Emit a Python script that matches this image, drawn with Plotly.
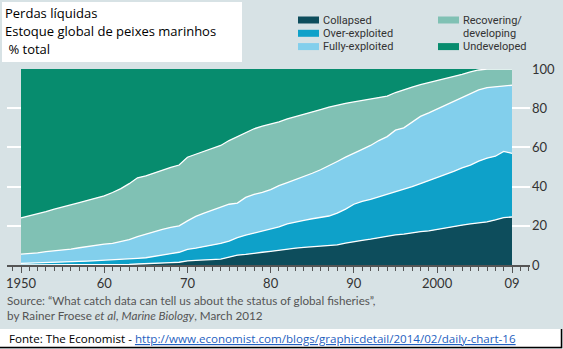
import plotly.graph_objects as go

years = list(range(1950, 2010))

collapsed = [0, 0, 0, 0, 0, 0, 0, 0, 0, 0,
             0, 0, 0.2, 0.3, 0.5, 0.6, 0.8, 1.0, 1.2, 1.4,
             2.1, 2.4, 2.6, 2.8, 3.0, 4.0, 5.0, 5.4, 5.8, 6.5,
             7.0, 7.6, 8.0, 8.6, 9.0, 9.4, 9.8, 10.0, 10.3, 11.2,
             12.0, 12.6, 13.2, 14.0, 14.5, 15.4, 15.8, 16.5, 17.0, 17.4,
             18.2, 19.0, 19.8, 20.3, 21.0, 21.6, 22.0, 23.0, 24.2, 24.5]

over_exploited = [0.8, 0.9, 1.0, 1.1, 1.3, 1.4, 1.6, 1.8, 2.0, 2.2,
                  2.4, 2.5, 2.5, 2.7, 2.9, 3.1, 3.5, 4.0, 4.6, 5.1,
                  5.9, 6.2, 6.7, 7.2, 8.0, 8.2, 9.0, 9.8, 10.4, 10.8,
                  11.2, 11.9, 13.0, 13.4, 13.8, 14.2, 14.5, 15.0, 16.2, 17.3,
                  19.0, 19.9, 20.3, 20.8, 21.3, 22.0, 23.0, 23.5, 24.5, 25.6,
                  26.3, 27.0, 28.0, 29.2, 30.0, 31.4, 32.5, 32.5, 33.8, 32.5]

fully_exploited = [4.7, 4.9, 5.2, 5.7, 5.9, 6.2, 6.5, 7.0, 7.5, 8.0,
                   8.2, 8.5, 9.3, 10.0, 11.1, 12.1, 12.7, 13.2, 13.4, 13.5,
                   14.5, 16.2, 17.2, 18.0, 18.8, 18.8, 17.6, 19.3, 19.8, 19.7,
                   20.3, 21.0, 21.0, 21.5, 22.2, 23.2, 24.3, 25.5, 26.3, 26.5,
                   26.2, 26.5, 27.5, 28.7, 29.7, 31.4, 31.2, 33.0, 34.3, 34.6,
                   35.0, 35.5, 35.7, 36.0, 36.5, 36.3, 36.0, 35.5, 33.5, 34.7]

recovering = [18.5, 19.2, 19.8, 20.4, 21.3, 21.9, 22.5, 23.0, 23.5, 24.0,
              24.7, 26.0, 27.0, 28.5, 30.0, 29.7, 30.0, 30.3, 30.6, 31.0,
              32.5, 31.7, 31.5, 31.5, 31.2, 32.5, 33.9, 33.0, 33.5, 33.8,
              33.3, 32.5, 32.5, 32.1, 31.8, 31.2, 30.7, 30.0, 28.8, 27.5,
              26.0, 25.0, 23.8, 22.0, 20.7, 19.2, 19.5, 17.8, 16.2, 15.4,
              14.5, 13.7, 12.5, 11.8, 11.0, 10.2, 9.5, 9.0, 8.5, 8.3]

undeveloped = [76.0, 75.0, 74.0, 72.8, 71.5, 70.5, 69.4, 68.2, 67.0, 65.8,
               64.7, 63.0, 61.0, 58.5, 55.5, 54.5, 53.0, 51.5, 50.2, 49.0,
               45.0, 43.5, 42.0, 40.5, 39.0, 36.5, 34.5, 32.5, 30.5, 29.2,
               28.2, 27.0, 25.5, 24.4, 23.2, 22.0, 20.7, 19.5, 18.4, 17.5,
               16.8, 16.0, 15.2, 14.5, 13.8, 12.0, 10.5, 9.2, 8.0, 7.0,
               6.0, 4.8, 4.0, 2.7, 1.5, 0.5, 0, 0, 0, 0]

series_names = ["Collapsed", "Over-exploited", "Fully-exploited",
                "Recovering/developing", "Undeveloped"]
series_values = [collapsed, over_exploited, fully_exploited, recovering, undeveloped]
series_colors = ["#0d4d5c", "#0ea1c9", "#82cfec", "#80c1b4", "#078c6e"]
legend_text_lines = [["Collapsed"], ["Over-exploited"], ["Fully-exploited"],
                     ["Recovering/", "developing"], ["Undeveloped"]]

x_tickvals = [1950, 1960, 1970, 1980, 1990, 2000, 2009]
x_ticktext = ["1950", "60", "70", "80", "90", "2000", "09"]
y_tickvals = [0, 20, 40, 60, 80, 100]

title_lines = ["Perdas líquidas", "Estoque global de peixes marinhos", " % total"]
source_lines = ["Source: “What catch data can tell us about the status of global fisheries”,",
                "by Rainer Froese <i>et al</i>, <i>Marine Biology</i>, March 2012"]
footer_prefix = "Fonte: The Economist - "
footer_link = "http://www.economist.com/blogs/graphicdetail/2014/02/daily-chart-16"

W, H = 563, 349
ML, MR, MT, MB = 7, 33, 69, 84
PW = W - ML - MR
PH = H - MT - MB
BG = "#d7e2e5"


def px(xp):
    return (xp - ML) / PW


def py(yp):
    return (H - MB - yp) / PH


fig = go.Figure()
for i, (name, vals, col) in enumerate(zip(series_names, series_values, series_colors)):
    fig.add_trace(go.Scatter(
        x=years, y=vals, name=name, stackgroup="one", mode="lines",
        fillcolor=col,
        line=dict(color="white", width=0 if i == 4 else 1.3),
        showlegend=False,
    ))

x_per_px = (2009 - 1950) / (512 - 21)
x_lo = 1950 - (21 - ML) * x_per_px
x_hi = 2009 + (W - MR - 512) * x_per_px

fig.update_layout(
    width=W, height=H,
    margin=dict(l=ML, r=MR, t=MT, b=MB, pad=0),
    paper_bgcolor=BG, plot_bgcolor=BG,
    font=dict(family="Lato", color="#333333"),
    xaxis=dict(range=[x_lo, x_hi], tickvals=x_tickvals, ticktext=x_ticktext,
               showgrid=False, zeroline=False, showline=True, linecolor="#555555",
               linewidth=1.5, ticks="outside", ticklen=6, tickcolor="#555555",
               tickwidth=1, tickfont=dict(size=13, color="#333333", family="Lato"),
               minor=dict(dtick=1, tick0=1950, ticks="outside", ticklen=4,
                          tickcolor="#555555", tickwidth=1, showgrid=False)),
    yaxis=dict(range=[0, 100], tickvals=y_tickvals, side="right",
               showgrid=True, gridcolor="white", gridwidth=2, zeroline=False,
               showline=False, ticks="", ticklabelstandoff=1,
               tickfont=dict(size=13, color="#333333", family="Lato")),
)

shapes = []
annotations = []

# title box
shapes.append(dict(type="rect", xref="paper", yref="paper",
                   x0=px(2), x1=px(242), y0=py(62), y1=py(2),
                   fillcolor="white", line=dict(width=0), layer="above"))
for txt, yy in zip(title_lines, [13, 31, 49]):
    annotations.append(dict(text=txt, xref="paper", yref="paper", x=px(3), y=py(yy),
                            xanchor="left", yanchor="middle", showarrow=False,
                            font=dict(family="Open Sans", size=13, color="#000000")))

# legend: (series index, swatch x, swatch centre y, text line y positions)
legend_items = [
    (0, 298, 20, [20]),
    (1, 298, 33.3, [33.3]),
    (2, 298, 46.6, [46.6]),
    (3, 438, 20, [20, 33.3]),
    (4, 438, 46.6, [46.6]),
]
for idx, sx, sy, tys in legend_items:
    shapes.append(dict(type="rect", xref="paper", yref="paper",
                       x0=px(sx), x1=px(sx + 21), y0=py(sy + 3.5), y1=py(sy - 3.5),
                       fillcolor=series_colors[idx], line=dict(width=0), layer="above"))
    for line_txt, ty in zip(legend_text_lines[idx], tys):
        annotations.append(dict(text=line_txt, xref="paper", yref="paper",
                                x=px(sx + 24), y=py(ty), xanchor="left", yanchor="middle",
                                align="left", showarrow=False, borderpad=0,
                                font=dict(family="Roboto", size=11, color="#333333")))

# source
for txt, yy in zip(source_lines, [300, 315]):
    annotations.append(dict(text=txt, xref="paper", yref="paper", x=px(5), y=py(yy),
                            xanchor="left", yanchor="middle", showarrow=False,
                            font=dict(family="Lato", size=11.7, color="#555555")))

# footer band
shapes.append(dict(type="rect", xref="paper", yref="paper",
                   x0=px(0), x1=px(562), y0=py(347.5), y1=py(329),
                   fillcolor="white", line=dict(width=0), layer="above"))
shapes.append(dict(type="line", xref="paper", yref="paper",
                   x0=px(561.5), x1=px(561.5), y0=py(348), y1=py(329),
                   line=dict(color="black", width=1.5), layer="above"))
shapes.append(dict(type="line", xref="paper", yref="paper",
                   x0=px(0), x1=px(562), y0=py(347.5), y1=py(347.5),
                   line=dict(color="black", width=1.5), layer="above"))
annotations.append(dict(
    text=footer_prefix + "<span style='color:#1f5fbf'><u>" + footer_link + "</u></span>",
    xref="paper", yref="paper", x=px(7), y=py(338), xanchor="left", yanchor="middle",
    showarrow=False, font=dict(family="Open Sans", size=11.6, color="#000000")))

fig.update_layout(shapes=shapes, annotations=annotations)
fig.write_html("out.html")
